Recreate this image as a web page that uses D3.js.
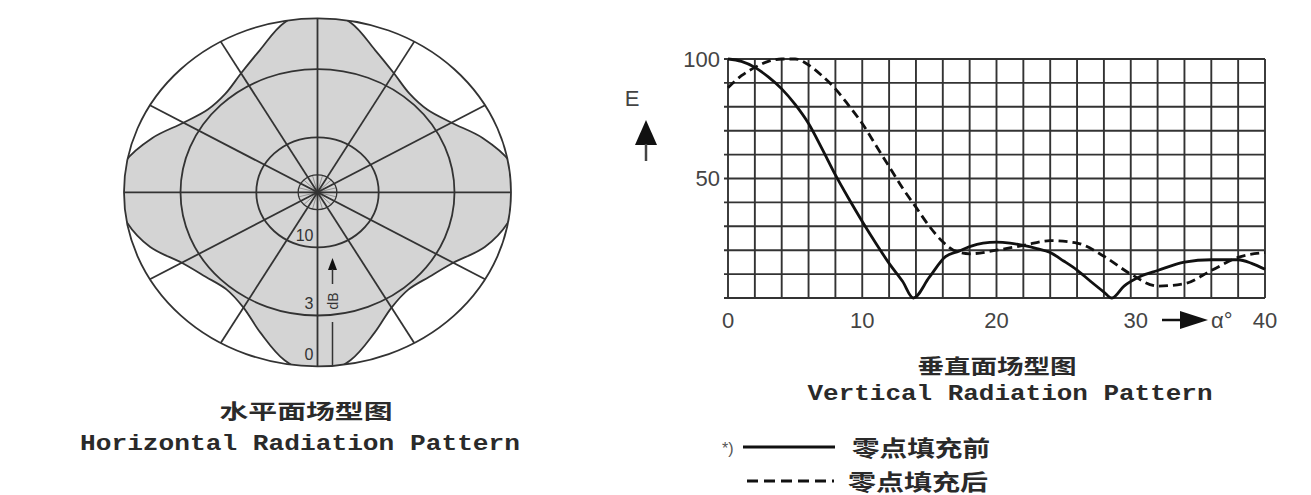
<!DOCTYPE html>
<html>
<head>
<meta charset="utf-8">
<script src="https://cdn.jsdelivr.net/npm/d3@7"></script>
<style>
  body { margin: 0; background: #fff; }
  svg { display: block; }
</style>
</head>
<body>
<svg id="chart" width="1311" height="495"></svg>
<script>
// horizontal pattern: relative field strength every 10 deg, clockwise from north
var hAngles = d3.range(0, 360, 10);
var hValues = [1.05, 0.99, 0.87, 0.79, 0.74, 0.74, 0.80, 0.91, 1.01,
               1.05, 1.00, 0.92, 0.81, 0.755, 0.73, 0.765, 0.86, 0.98,
               1.05, 0.98, 0.86, 0.765, 0.73, 0.755, 0.81, 0.92, 1.00,
               1.05, 1.01, 0.91, 0.80, 0.74, 0.74, 0.79, 0.87, 0.99];
var ringDb = [0, 3, 10, 20];
var ringLabels = ["0", "3", "10"];

// vertical pattern
var solidX = [0, 1, 2, 3, 4, 5, 6, 7, 8, 9, 10, 11, 12, 13, 13.8, 15, 16.2, 17.2, 18, 19, 20, 21, 22, 23, 24, 25, 26, 27, 28, 28.6, 29.5, 30.7, 32, 34, 36, 38, 39, 40];
var solidY = [100, 99, 96.5, 92.5, 87.5, 81, 73, 62.5, 51.5, 41.5, 32, 23, 14.5, 7, 0, 8.7, 17.3, 19.6, 21.5, 23, 23.4, 23, 22, 20.7, 19, 15.5, 11.7, 7, 2.5, 0, 5, 9, 11.5, 15, 16, 16, 14.5, 12];
var dashX = [0, 1, 2, 3, 4, 5, 6, 7, 8, 9, 10, 11, 12, 13, 14, 15, 16, 17, 18, 20, 22, 24, 26, 28, 30, 32, 34, 36, 38, 40];
var dashY = [88, 93, 96.5, 99, 100, 100, 97.5, 93, 87.5, 80.5, 73, 64, 55, 46, 38, 30, 23.5, 19.5, 18.5, 20, 22, 24, 23, 17.5, 10, 5, 6, 11.5, 17, 19];
var xTicks = [0, 10, 20, 30, 40];
var yTicks = [50, 100];

var svg = d3.select("#chart");
var ink = "#333";

// ---------- polar (horizontal) ----------
var cx = 317.5, cy = 192.3;
var px = d3.scaleLinear().domain([-1, 1]).range([cx - 193.5, cx + 193.5]);
var py = d3.scaleLinear().domain([-1, 1]).range([cy + 174, cy - 174]);
var rad = function(a) { return a * Math.PI / 180; };

svg.append("defs").append("clipPath").attr("id", "outer")
  .append("ellipse").attr("cx", cx).attr("cy", cy)
  .attr("rx", px(1) - px(0)).attr("ry", py(0) - py(1));

var hData = hAngles.map(function(a, i) { return { a: a, r: hValues[i] }; });
var pattern = d3.line()
  .x(function(d) { return px(d.r * Math.sin(rad(d.a))); })
  .y(function(d) { return py(d.r * Math.cos(rad(d.a))); })
  .curve(d3.curveCatmullRomClosed);

svg.append("path")
  .attr("d", pattern(hData))
  .attr("clip-path", "url(#outer)")
  .attr("fill", "#d4d4d4")
  .attr("stroke", ink)
  .attr("stroke-width", 1.8);

var polarG = svg.append("g").attr("fill", "none").attr("stroke", ink);

// fine spokes inside the 20 dB ring
var rIn = Math.pow(10, -1);
d3.range(0, 180, 15).forEach(function(a) {
  polarG.append("line")
    .attr("x1", px(rIn * Math.sin(rad(a)))).attr("y1", py(rIn * Math.cos(rad(a))))
    .attr("x2", px(-rIn * Math.sin(rad(a)))).attr("y2", py(-rIn * Math.cos(rad(a))))
    .attr("stroke", "#777")
    .attr("stroke-width", 0.7);
});

ringDb.forEach(function(db) {
  var r = Math.pow(10, -db / 20);
  polarG.append("ellipse")
    .attr("cx", cx).attr("cy", cy)
    .attr("rx", px(r) - px(0)).attr("ry", py(0) - py(r))
    .attr("stroke-width", db === 20 ? 1.3 : 1.8);
});

d3.range(0, 180, 30).forEach(function(a) {
  polarG.append("line")
    .attr("x1", px(Math.sin(rad(a)))).attr("y1", py(Math.cos(rad(a))))
    .attr("x2", px(-Math.sin(rad(a)))).attr("y2", py(-Math.cos(rad(a))))
    .attr("stroke-width", 1.8);
});

ringLabels.forEach(function(t, i) {
  var r = Math.pow(10, -ringDb[i] / 20);
  svg.append("text")
    .attr("x", cx - 4).attr("y", py(-r) - 6)
    .attr("text-anchor", "end")
    .attr("font-family", "Liberation Sans, Arial, sans-serif")
    .attr("font-size", 16)
    .attr("fill", ink)
    .text(t);
});

// dB arrow
var ax = cx + 15;
svg.append("path")
  .attr("d", "M" + (ax - 4.5) + ",270 L" + (ax + 4.5) + ",270 L" + ax + ",258 Z")
  .attr("fill", "#111");
svg.append("line").attr("x1", ax).attr("x2", ax).attr("y1", 269).attr("y2", 284)
  .attr("stroke", ink).attr("stroke-width", 1.5);
svg.append("text")
  .attr("transform", "translate(" + (ax + 5) + ",301) rotate(-90)")
  .attr("text-anchor", "middle")
  .attr("font-family", "Liberation Sans, Arial, sans-serif")
  .attr("font-size", 14)
  .attr("fill", ink)
  .text("dB");
svg.append("line").attr("x1", ax).attr("x2", ax).attr("y1", 322).attr("y2", 365)
  .attr("stroke", ink).attr("stroke-width", 1.5);

// ---------- vertical pattern ----------
var x = d3.scaleLinear().domain([0, 40]).range([728, 1265]);
var y = d3.scaleLinear().domain([0, 100]).range([298, 59]);

var grid = svg.append("g").attr("stroke", ink).attr("stroke-width", 1.9);
d3.range(0, 101, 10).forEach(function(v) {
  grid.append("line").attr("x1", x(0) - 4).attr("x2", x(40))
    .attr("y1", y(v)).attr("y2", y(v));
});
d3.range(0, 41, 2).forEach(function(v) {
  grid.append("line").attr("x1", x(v)).attr("x2", x(v))
    .attr("y1", y(100)).attr("y2", y(0));
});

var curve = d3.line()
  .x(function(d) { return x(d[0]); })
  .y(function(d) { return y(d[1]); })
  .curve(d3.curveMonotoneX);

svg.append("path")
  .attr("d", curve(d3.zip(dashX, dashY)))
  .attr("fill", "none").attr("stroke", "#111").attr("stroke-width", 2.8)
  .attr("stroke-dasharray", "9,5");
svg.append("path")
  .attr("d", curve(d3.zip(solidX, solidY)))
  .attr("fill", "none").attr("stroke", "#111").attr("stroke-width", 2.8);

var lab = { "font-family": "Liberation Sans, Arial, sans-serif", "font-size": 22, "fill": "#444" };
function styleText(sel, o) { for (var k in o) sel.attr(k, o[k]); return sel; }

yTicks.forEach(function(v) {
  styleText(svg.append("text"), lab)
    .attr("x", x(0) - 8).attr("y", y(v))
    .attr("text-anchor", "end").attr("dominant-baseline", "central")
    .text(v);
});
xTicks.forEach(function(v) {
  var xx = v === 30 ? x(v) + 5 : x(v);
  styleText(svg.append("text"), lab)
    .attr("x", xx).attr("y", 328)
    .attr("text-anchor", "middle")
    .text(v);
});

// alpha arrow on the x axis
svg.append("line").attr("x1", 1162).attr("x2", 1185).attr("y1", 320).attr("y2", 320)
  .attr("stroke", "#111").attr("stroke-width", 2.5);
svg.append("path").attr("d", "M1180,311 L1208,320 L1180,329 Z").attr("fill", "#111");
styleText(svg.append("text"), lab).attr("x", 1211).attr("y", 328).text("α°");

// E arrow
styleText(svg.append("text"), lab)
  .attr("x", 632).attr("y", 98).attr("text-anchor", "middle")
  .attr("dominant-baseline", "central").text("E");
svg.append("path").attr("d", "M635,145 L657,145 L646,120 Z").attr("fill", "#111");
svg.append("line").attr("x1", 646).attr("x2", 646).attr("y1", 144).attr("y2", 161)
  .attr("stroke", "#444").attr("stroke-width", 2.5);

// ---------- titles ----------
var cjk = "Noto Sans CJK SC, sans-serif";
var mono = "Liberation Mono, Courier New, monospace";
function title(txt, xc, yb, len, fam, size, weight) {
  svg.append("text")
    .attr("x", xc).attr("y", yb)
    .attr("text-anchor", "middle")
    .attr("font-family", fam).attr("font-size", size).attr("font-weight", weight)
    .attr("fill", "#2a2a2a")
    .attr("textLength", len).attr("lengthAdjust", "spacingAndGlyphs")
    .text(txt);
}
title("水平面场型图", 306, 419, 173, cjk, 20, 700);
title("Horizontal Radiation Pattern", 300, 450, 440, mono, 22, 700);
title("垂直面场型图", 997, 374, 159, cjk, 20, 700);
title("Vertical Radiation Pattern", 1010, 400, 405, mono, 22, 700);

// legend
svg.append("text").attr("x", 722).attr("y", 454)
  .attr("font-family", "Liberation Sans, Arial, sans-serif").attr("font-size", 16)
  .attr("fill", "#555").text("*)");
svg.append("line").attr("x1", 743).attr("x2", 835).attr("y1", 447).attr("y2", 447)
  .attr("stroke", "#111").attr("stroke-width", 2.8);
svg.append("line").attr("x1", 747).attr("x2", 834).attr("y1", 481).attr("y2", 481)
  .attr("stroke", "#111").attr("stroke-width", 2.8).attr("stroke-dasharray", "11,6");
title("零点填充前", 921, 456, 138, cjk, 22, 700);
title("零点填充后", 918, 490, 140, cjk, 22, 700);
</script>
</body>
</html>
